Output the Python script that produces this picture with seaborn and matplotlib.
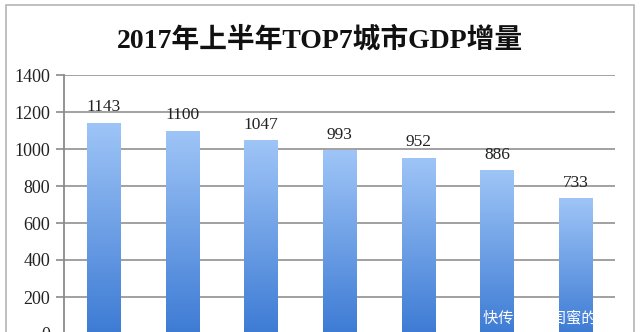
import numpy as np
import pandas as pd
import matplotlib
matplotlib.use("Agg")
import matplotlib.pyplot as plt
import seaborn as sns
from matplotlib.colors import LinearSegmentedColormap

# ---- data ----
cities = ["城市1", "城市2", "城市3", "城市4", "城市5", "城市6", "城市7"]
gdp_increase = [1143, 1100, 1047, 993, 952, 886, 733]
y_ticks = [0, 200, 400, 600, 800, 1000, 1200, 1400]
title_text = "2017年上半年TOP7城市GDP增量"
watermark_text = "快传号／  闺蜜的"

df = pd.DataFrame({"city": cities, "value": gdp_increase})

sns.set_theme(style="white")
plt.rcParams['font.family'] = ['Liberation Serif', 'Noto Sans CJK SC', 'DejaVu Sans']

fig = plt.figure(figsize=(6.4, 3.32), dpi=100)
fig.patch.set_facecolor("white")

# outer chart frame
frame = plt.Rectangle((6/640, -0.1), 628/640, 1 - 5/332 + 0.1, transform=fig.transFigure,
                      fill=False, edgecolor="#b5b5b5", linewidth=1.2)
fig.patches.append(frame)

ax = fig.add_axes([64/640, 1 - 334/332, 551/640, (334 - 75)/332])
sns.barplot(data=df, x="city", y="value", ax=ax, color="#6a9de6", width=0.42,
            saturation=1, zorder=3)

ax.set_ylim(0, 1400)
ax.set_xlim(-0.5, len(cities) - 0.5)
ax.set_yticks(y_ticks)
ax.set_yticklabels([str(t) for t in y_ticks], fontsize=13, color="#222222")
ax.set_xticks([])
ax.set_xlabel("")
ax.set_ylabel("")
ax.yaxis.grid(True, color="#9a9a9a", linewidth=1.3, zorder=0)
ax.set_axisbelow(True)
for s in ["top", "right", "bottom"]:
    ax.spines[s].set_visible(False)
ax.spines["left"].set_color("#8a8a8a")
ax.spines["left"].set_linewidth(1.3)
ax.tick_params(axis="y", which="major", direction="out", length=6, width=1.2,
               color="#8a8a8a", left=True, pad=4)

# gradient fill clipped to each bar
cmap = LinearSegmentedColormap.from_list("bluegrad", ["#3d7bd4", "#9fc5f7"])
grad = np.linspace(0, 1, 256).reshape(-1, 1)
for patch in ax.patches:
    x0, y0 = patch.get_x(), patch.get_y()
    w, h = patch.get_width(), patch.get_height()
    im = ax.imshow(grad, cmap=cmap, aspect="auto", origin="lower",
                   extent=[x0, x0 + w, y0, y0 + h], zorder=4)
    im.set_clip_path(patch)
    patch.set_edgecolor("none")
ax.set_xlim(-0.5, len(cities) - 0.5)
ax.set_ylim(0, 1400)

# value labels
for i, v in enumerate(gdp_increase):
    ax.text(i, v + 40, str(v), ha="center", va="bottom", fontsize=12.5,
            color="#222222", zorder=5)

# title
fig.text(0.5, 1 - 40/332, title_text, ha="center", va="center", fontsize=20,
         fontweight="bold", color="#111111")

# watermark
fig.text(483/640, 1 - 318/332, watermark_text, ha="left", va="center", fontsize=11,
         color="white", family=["Noto Sans CJK SC", "DejaVu Sans"])

fig.savefig("out.png", dpi=100, facecolor="white")
